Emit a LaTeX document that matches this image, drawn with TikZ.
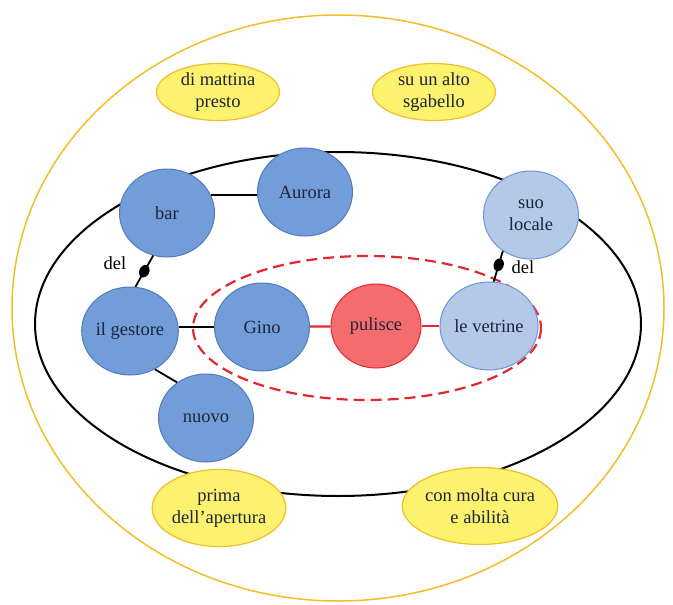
\documentclass[tikz,border=0pt]{standalone}
\usepackage{fontspec}
\setmainfont{Liberation Serif}
\usetikzlibrary{shapes.geometric}

\definecolor{nodeblue}{RGB}{114,157,216}
\definecolor{blueedge}{RGB}{79,124,192}
\definecolor{lightblue}{RGB}{180,200,232}
\definecolor{lightedge}{RGB}{110,150,210}
\definecolor{redfill}{RGB}{245,108,110}
\definecolor{rededge}{RGB}{226,40,46}
\definecolor{yellowfill}{RGB}{253,242,110}
\definecolor{yellowedge}{RGB}{240,190,40}
\definecolor{textdark}{RGB}{30,36,60}

\tikzset{
	word/.style={ellipse, draw=blueedge, fill=nodeblue, line width=1pt, minimum width=95pt, minimum height=88pt, inner sep=0pt, align=center, text=textdark},
	wordlight/.style={word, draw=lightedge, fill=lightblue},
	verb/.style={word, draw=rededge, fill=redfill, minimum width=90pt, minimum height=84pt},
	bubble/.style={ellipse, draw=yellowedge, fill=yellowfill, line width=1.2pt, inner sep=0pt, minimum width=123pt, align=center, text=textdark},
	link/.style={line width=1.8pt},
	redlink/.style={line width=2.2pt, draw=rededge},
	dotmark/.style={ellipse, fill=black, inner sep=0pt, minimum width=10pt, minimum height=13pt}
}

\begin{document}
\begin{tikzpicture}[x=1pt, y=-1pt, font=\fontsize{18.5}{22}\selectfont]
		%%%%% START %%%%%
		\useasboundingbox (0,0) rectangle (673,605);
		
		\draw[yellowedge, line width=1.5pt] (338,308) ellipse [x radius=326, y radius=293];
		\draw[black, line width=2pt] (338,324) ellipse [x radius=303, y radius=172];
		\draw[rededge, line width=2.2pt, dash pattern=on 11pt off 6pt] (367,328) ellipse [x radius=174, y radius=72];
		
		\node[bubble, minimum height=57pt] (mattina) at (218,92) {di mattina\\presto};
		\node[bubble, minimum height=57pt] (sgabello) at (434,92) {su un alto\\sgabello};
		\node[bubble, minimum height=77pt] (apertura) at (219,508) {prima\\dell'apertura};
		\node[bubble, minimum height=77pt] (cura) at (480,506) {con molta cura\\e abilità};
		
		\node[word] (bar) at (167,213) {bar};
		\node[word] (aurora) at (305,192) {Aurora};
		\node[wordlight] (locale) at (531,215) {suo\\locale};
		\node[word] (gestore) at (130,331) {il gestore};
		\node[word] (gino) at (262,327) {Gino};
		\node[verb] (pulisce) at (376,326) {pulisce};
		\node[wordlight] (vetrine) at (489,326) {le vetrine};
		\node[word] (nuovo) at (206,418) {nuovo};
		
		\draw[link] (bar.22) -- (bar.22 -| aurora.west);
		\draw[link] (bar.252) -- node[dotmark, pos=0.5, rotate=-25] (dotbar) {} (gestore.83);
		\draw[link] (locale.232) -- node[dotmark, pos=0.45, rotate=-20] (dotlocale) {} (vetrine.84);
		\draw[link] (gestore.east |- gino.west) -- (gino.west);
		\draw[redlink] (gino) -- (pulisce);
		\draw[redlink] (pulisce) -- (vetrine);
		\draw[link] (gestore.-57) -- (nuovo.129);
		
		\node (delbar) at (115,263) {del};
		\node (dellocale) at (523,267) {del};
		
		%%%%% END %%%%%
\end{tikzpicture}
\end{document}
